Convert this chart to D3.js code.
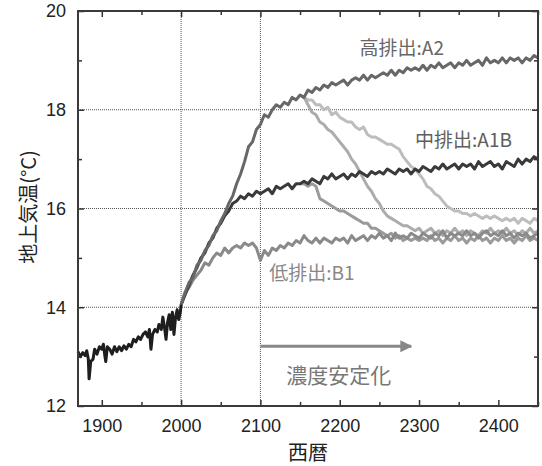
<!DOCTYPE html>
<html>
<head>
<meta charset="utf-8">
<script src="https://cdn.jsdelivr.net/npm/d3@7"></script>
<style>
  body { margin: 0; background: #fff; }
  svg text { font-family: "Liberation Sans", Arial, sans-serif; }
  .cjk { font-family: "Noto Sans CJK JP", sans-serif; }
</style>
</head>
<body>
<div id="chart"></div>
<script>
// observed record [year, temp]
var historical = [
  [1870,13.1],[1873,13.0],[1876,13.08],[1879,13.02],[1881,13.12],[1883,12.95],[1884,12.55],[1886,12.9],
  [1889,12.95],[1891,13.15],[1894,13.05],[1897,13.2],[1900,13.15],[1902,13.25],[1904,13.0],[1905,12.9],
  [1907,13.2],[1910,13.15],[1913,13.05],[1916,13.2],[1919,13.1],[1922,13.2],[1925,13.12],[1928,13.22],
  [1931,13.15],[1934,13.25],[1937,13.2],[1940,13.35],[1943,13.3],[1946,13.4],[1949,13.35],[1952,13.45],
  [1955,13.5],[1958,13.4],[1960,13.55],[1962,13.15],[1964,13.45],[1967,13.55],[1970,13.5],[1972,13.65],
  [1975,13.55],[1977,13.8],[1979,13.6],[1981,13.35],[1983,13.7],[1985,13.85],[1987,13.55],[1989,13.9],
  [1991,13.45],[1993,13.8],[1995,13.95],[1997,13.75],[1999,13.9],[2000,14.05]
];

// scenario runs, one value every 5 years
var scenario_step = 5;

var a2_start = 2000;
var a2 = [
  14.05, 14.3, 14.5, 14.6, 14.85, 14.95, 15.15, 15.25, 15.45, 15.55, 15.75,
  15.9, 16.1, 16.25, 16.5, 16.7, 16.95, 17.25, 17.35, 17.6, 17.7,
  17.9, 17.85, 18.0, 18.1, 18.05, 18.15, 18.1, 18.25, 18.2, 18.3,
  18.25, 18.4, 18.35, 18.45, 18.4, 18.5, 18.45, 18.55, 18.5, 18.55,
  18.6, 18.5, 18.6, 18.65, 18.6, 18.7, 18.6, 18.7, 18.65, 18.7,
  18.75, 18.7, 18.8, 18.7, 18.8, 18.75, 18.85, 18.8, 18.85, 18.8,
  18.9, 18.8, 18.9, 18.85, 18.95, 18.85, 18.9, 18.95, 18.85, 18.95,
  18.9, 19.0, 18.9, 18.95, 19.0, 18.9, 19.05, 18.95, 19.0, 18.95,
  19.05, 18.95, 19.05, 19.0, 19.05, 18.95, 19.05, 19.0, 19.1, 19.05
];

var a1b_start = 2000;
var a1b = [
  14.05, 14.25, 14.45, 14.65, 14.8, 15.0, 15.1, 15.3, 15.4, 15.6, 15.7,
  15.85, 15.95, 16.1, 16.15, 16.25, 16.2, 16.3, 16.25, 16.35, 16.3,
  16.35, 16.4, 16.3, 16.45, 16.4, 16.45, 16.5, 16.4, 16.5, 16.5,
  16.55, 16.5, 16.6, 16.55, 16.5, 16.65, 16.6, 16.7, 16.6, 16.65,
  16.7, 16.6, 16.7, 16.65, 16.75, 16.7, 16.65, 16.75, 16.7, 16.75,
  16.7, 16.8, 16.75, 16.7, 16.8, 16.75, 16.8, 16.7, 16.8, 16.75,
  16.85, 16.8, 16.75, 16.85, 16.8, 16.9, 16.8, 16.85, 16.9, 16.8,
  16.9, 16.85, 16.9, 16.8, 16.95, 16.85, 16.9, 16.95, 16.85, 16.9,
  16.8, 16.95, 16.9, 16.85, 17.0, 16.9, 17.0, 16.95, 17.05, 17.0
];

var b1_start = 2000;
var b1 = [
  14.05, 14.3, 14.4, 14.55, 14.65, 14.75, 14.9, 14.85, 15.0, 15.1, 15.05,
  15.2, 15.1, 15.2, 15.25, 15.2, 15.3, 15.25, 15.3, 15.2, 14.95,
  15.15, 15.05, 15.2, 15.15, 15.25, 15.2, 15.3, 15.25, 15.35, 15.3,
  15.45, 15.35, 15.3, 15.4, 15.3, 15.4, 15.35, 15.3, 15.4, 15.35,
  15.4, 15.3, 15.45, 15.35, 15.4, 15.45, 15.35, 15.45, 15.4, 15.5,
  15.4, 15.45, 15.35, 15.5, 15.4, 15.45, 15.4, 15.5, 15.45, 15.4,
  15.5, 15.45, 15.4, 15.5, 15.45, 15.55, 15.4, 15.5, 15.45, 15.5,
  15.45, 15.55, 15.45, 15.5, 15.4, 15.5, 15.55, 15.45, 15.5, 15.45,
  15.55, 15.45, 15.5, 15.4, 15.5, 15.45, 15.5, 15.4, 15.45, 15.5
];

// concentration-stabilized runs branching off in 2150
var stab_start = 2150;
var a1b_stab = [
  16.5, 16.5, 16.45, 16.5, 16.45, 16.2, 16.15, 16.1, 16.05, 16.0, 15.95,
  15.95, 15.9, 15.85, 15.8, 15.75, 15.7, 15.7, 15.6, 15.6, 15.55,
  15.5, 15.45, 15.5, 15.4, 15.45, 15.35, 15.4, 15.35, 15.4, 15.35,
  15.4, 15.35, 15.45, 15.35, 15.4, 15.3, 15.4, 15.35, 15.45, 15.35,
  15.4, 15.3, 15.4, 15.35, 15.45, 15.35, 15.4, 15.3, 15.4, 15.35,
  15.45, 15.35, 15.4, 15.3, 15.4, 15.35, 15.45, 15.35, 15.4, 15.35
];
var a2_stab_fast = [
  18.3, 18.25, 18.1, 17.95, 17.9, 17.75, 17.7, 17.6, 17.55, 17.45, 17.35,
  17.25, 17.15, 17.0, 16.9, 16.75, 16.6, 16.45, 16.35, 16.2, 16.1,
  15.95, 15.85, 15.8, 15.75, 15.7, 15.65, 15.65, 15.6, 15.55, 15.6,
  15.5, 15.55, 15.6, 15.5, 15.55, 15.45, 15.55, 15.5, 15.6, 15.5,
  15.55, 15.45, 15.55, 15.5, 15.45, 15.55, 15.5, 15.6, 15.5, 15.55,
  15.5, 15.6, 15.5, 15.55, 15.45, 15.55, 15.5, 15.6, 15.5, 15.55
];
var a2_stab_slow = [
  18.3, 18.25, 18.2, 18.2, 18.1, 18.1, 18.0, 18.05, 17.9, 17.95, 17.85,
  17.8, 17.75, 17.75, 17.65, 17.6, 17.65, 17.5, 17.45, 17.45, 17.4,
  17.35, 17.3, 17.3, 17.25, 17.2, 17.05, 16.95, 16.85, 16.8, 16.7,
  16.6, 16.45, 16.4, 16.3, 16.25, 16.15, 16.05, 16.0, 15.95, 15.95,
  15.9, 15.9, 15.85, 15.9, 15.85, 15.8, 15.85, 15.8, 15.85, 15.8,
  15.75, 15.8, 15.75, 15.8, 15.7, 15.8, 15.75, 15.7, 15.8, 15.75
];

var x_ticks       = [1900, 2000, 2100, 2200, 2300, 2400];
var x_minor_ticks = [1950, 2050, 2150, 2250, 2350, 2450];
var y_ticks       = [12, 14, 16, 18, 20];
var y_minor_ticks = [13, 15, 17, 19];
var x_grid        = [2000, 2100];
var y_grid        = [14, 16, 18];

var scenario_labels = [
  {text: '高排出:A2',  year: 2225, temp: 19.1,  color: '#666'},
  {text: '中排出:A1B', year: 2295, temp: 17.25, color: '#5e5e5e'},
  {text: '低排出:B1',  year: 2111, temp: 14.55, color: '#888'}
];
var arrow_years = [2100, 2290];
var arrow_temp  = 13.21;
var arrow_label = '濃度安定化';

function toPoints(start, values) {
    return values.map(function(v, i) { return [start + i * scenario_step, v]; });
}

// Chart params
var svg_width  = 542;
var svg_height = 466;
var plot_left = 78, plot_right = 538, plot_top = 11, plot_bottom = 406;

var svg = d3.select('#chart')
    .append('svg')
    .attr('width', svg_width)
    .attr('height', svg_height);

var x_scale = d3.scaleLinear().domain([1870, 2450]).range([plot_left, plot_right]);
var y_scale = d3.scaleLinear().domain([12, 20]).range([plot_bottom, plot_top]);

// grid
svg.append('g')
    .selectAll('line')
    .data(y_grid)
    .enter()
    .append('line')
    .attr('x1', plot_left).attr('x2', plot_right)
    .attr('y1', function(d) { return y_scale(d); })
    .attr('y2', function(d) { return y_scale(d); })
    .attr('stroke', '#555')
    .attr('stroke-width', 1)
    .attr('stroke-dasharray', '1,1');

svg.append('g')
    .selectAll('line')
    .data(x_grid)
    .enter()
    .append('line')
    .attr('y1', plot_top).attr('y2', plot_bottom)
    .attr('x1', function(d) { return x_scale(d); })
    .attr('x2', function(d) { return x_scale(d); })
    .attr('stroke', '#555')
    .attr('stroke-width', 1)
    .attr('stroke-dasharray', '1,1');

// lines
var line = d3.line()
    .x(function(d) { return x_scale(d[0]); })
    .y(function(d) { return y_scale(d[1]); });

var series = [
    {pts: toPoints(stab_start, a2_stab_slow), color: '#bdbdbd'},
    {pts: toPoints(stab_start, a2_stab_fast), color: '#acacac'},
    {pts: toPoints(stab_start, a1b_stab),     color: '#9a9a9a'},
    {pts: toPoints(b1_start, b1),             color: '#8a8a8a'},
    {pts: toPoints(a1b_start, a1b),           color: '#3a3a3a'},
    {pts: toPoints(a2_start, a2),             color: '#676767'},
    {pts: historical,                         color: '#1e1e1e'}
];

svg.append('g')
    .selectAll('path')
    .data(series)
    .enter()
    .append('path')
    .attr('d', function(d) { return line(d.pts); })
    .attr('fill', 'none')
    .attr('stroke', function(d) { return d.color; })
    .attr('stroke-width', 3)
    .attr('stroke-linejoin', 'round');

// axes, ticks pointing inward on all four sides
svg.append('g')
    .attr('transform', 'translate(0,' + plot_bottom + ')')
    .call(d3.axisBottom(x_scale).tickValues(x_ticks).tickSize(-6).tickPadding(13).tickFormat(d3.format('d')));
svg.append('g')
    .attr('transform', 'translate(0,' + plot_bottom + ')')
    .call(d3.axisBottom(x_scale).tickValues(x_minor_ticks).tickSize(-4).tickFormat(''));
svg.append('g')
    .attr('transform', 'translate(0,' + plot_top + ')')
    .call(d3.axisTop(x_scale).tickValues(x_ticks).tickSize(-6).tickFormat(''));
svg.append('g')
    .attr('transform', 'translate(0,' + plot_top + ')')
    .call(d3.axisTop(x_scale).tickValues(x_minor_ticks).tickSize(-4).tickFormat(''));

svg.append('g')
    .attr('transform', 'translate(' + plot_left + ',0)')
    .call(d3.axisLeft(y_scale).tickValues(y_ticks).tickSize(-6).tickPadding(12));
svg.append('g')
    .attr('transform', 'translate(' + plot_left + ',0)')
    .call(d3.axisLeft(y_scale).tickValues(y_minor_ticks).tickSize(-4).tickFormat(''));
svg.append('g')
    .attr('transform', 'translate(' + plot_right + ',0)')
    .call(d3.axisRight(y_scale).tickValues(y_ticks).tickSize(-6).tickFormat(''));
svg.append('g')
    .attr('transform', 'translate(' + plot_right + ',0)')
    .call(d3.axisRight(y_scale).tickValues(y_minor_ticks).tickSize(-4).tickFormat(''));

svg.selectAll('.domain').remove();
svg.selectAll('.tick line').attr('stroke', '#333').attr('stroke-width', 1.5);
svg.selectAll('.tick text')
    .attr('font-size', '18px')
    .attr('fill', '#222')
    .style('font-family', '"Liberation Sans", Arial, sans-serif');

// frame
svg.append('rect')
    .attr('x', plot_left).attr('y', plot_top)
    .attr('width', plot_right - plot_left).attr('height', plot_bottom - plot_top)
    .attr('fill', 'none')
    .attr('stroke', '#3a3a3a')
    .attr('stroke-width', 2);

// scenario labels
svg.append('g')
    .selectAll('text')
    .data(scenario_labels)
    .enter()
    .append('text')
    .attr('class', 'cjk')
    .attr('x', function(d) { return x_scale(d.year); })
    .attr('y', function(d) { return y_scale(d.temp); })
    .attr('font-size', '19px')
    .attr('fill', function(d) { return d.color; })
    .text(function(d) { return d.text; });

// stabilization arrow
svg.append('defs').append('marker')
    .attr('id', 'arrowhead')
    .attr('viewBox', '0 0 10 10')
    .attr('refX', 9).attr('refY', 5)
    .attr('markerWidth', 4).attr('markerHeight', 4)
    .attr('markerUnits', 'strokeWidth')
    .attr('orient', 'auto')
    .append('path')
    .attr('d', 'M0,0 L10,5 L0,10 z')
    .attr('fill', '#888');

svg.append('line')
    .attr('x1', x_scale(arrow_years[0]))
    .attr('x2', x_scale(arrow_years[1]))
    .attr('y1', y_scale(arrow_temp))
    .attr('y2', y_scale(arrow_temp))
    .attr('stroke', '#888')
    .attr('stroke-width', 3)
    .attr('marker-end', 'url(#arrowhead)');

svg.append('text')
    .attr('class', 'cjk')
    .attr('x', (x_scale(arrow_years[0]) + x_scale(arrow_years[1])) / 2 + 3)
    .attr('y', 383)
    .attr('text-anchor', 'middle')
    .attr('font-size', '21px')
    .attr('fill', '#777')
    .text(arrow_label);

// axis titles
svg.append('text')
    .attr('class', 'cjk')
    .attr('x', (plot_left + plot_right) / 2)
    .attr('y', 460)
    .attr('text-anchor', 'middle')
    .attr('font-size', '20px')
    .attr('fill', '#222')
    .text('西暦');

svg.append('text')
    .attr('class', 'cjk')
    .attr('transform', 'translate(36,' + 207 + ') rotate(-90)')
    .attr('text-anchor', 'middle')
    .attr('font-size', '20px')
    .attr('fill', '#222')
    .text('地上気温(°C)');
</script>
</body>
</html>
